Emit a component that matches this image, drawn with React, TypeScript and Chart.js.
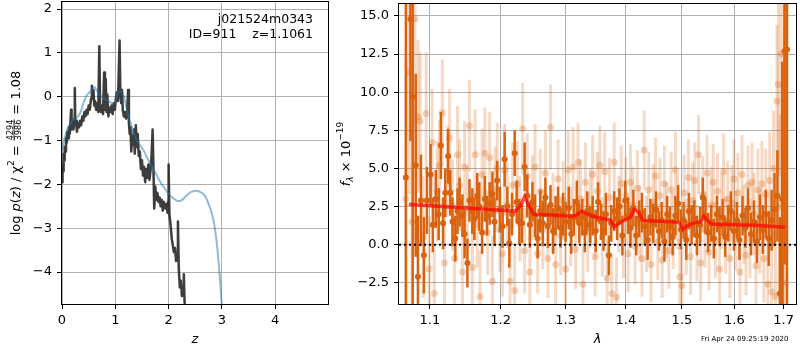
import React, { useEffect, useRef } from 'react';
import { Chart, registerables } from 'chart.js';

Chart.register(...registerables);

const FONT = '"DejaVu Sans", Verdana, sans-serif';

// ---------------- left panel: log p(z) ----------------
const zTicks = [0, 1, 2, 3, 4];
const lpTicks = [-4, -3, -2, -1, 0, 1, 2];

const zBlue = [
  0.0, 0.05, 0.1, 0.15, 0.2, 0.25, 0.3, 0.35, 0.4, 0.45,
  0.5, 0.55, 0.6, 0.65, 0.7, 0.75, 0.8, 0.85, 0.9, 0.95,
  1.0, 1.05, 1.1, 1.15, 1.2, 1.25, 1.3, 1.35, 1.4, 1.45,
  1.5, 1.55, 1.6, 1.65, 1.7, 1.75, 1.8, 1.85, 1.9, 1.95,
  2.0, 2.05, 2.1, 2.15, 2.2, 2.25, 2.3, 2.35, 2.4, 2.45,
  2.5, 2.55, 2.6, 2.65, 2.7, 2.75, 2.8, 2.85, 2.9, 2.95,
  3.0,
];
const lpBlue = [
  -1.2, -0.95, -0.75, -0.62, -0.55, -0.5, -0.45, -0.35, -0.15, 0.0,
  0.08, 0.15, 0.22, 0.15, 0.05, 0.0, -0.05, -0.08, -0.12, -0.16,
  -0.12, 0.1, 0.12, 0.05, -0.2, -0.45, -0.65, -0.83, -0.98, -1.08,
  -1.17, -1.27, -1.4, -1.52, -1.63, -1.73, -1.85, -1.96, -2.05, -2.13,
  -2.21, -2.28, -2.33, -2.37, -2.38, -2.36, -2.3, -2.24, -2.19, -2.16,
  -2.15, -2.15, -2.18, -2.22, -2.3, -2.45, -2.62, -2.87, -3.3, -3.95,
  -4.8,
];

const zBlack = [
  0.0, 0.01, 0.02, 0.03, 0.04, 0.05, 0.06, 0.075, 0.09, 0.1,
  0.115, 0.13, 0.145, 0.16, 0.17, 0.18, 0.2, 0.215, 0.23, 0.24,
  0.25, 0.265, 0.28, 0.3, 0.32, 0.34, 0.36, 0.38, 0.4, 0.42,
  0.44, 0.46, 0.48, 0.5, 0.52, 0.545, 0.56, 0.575, 0.59, 0.605,
  0.62, 0.64, 0.66, 0.68, 0.7, 0.715, 0.73, 0.75, 0.77, 0.79,
  0.805, 0.82, 0.835, 0.85, 0.87, 0.89, 0.91, 0.93, 0.95, 0.97,
  0.99, 1.01, 1.03, 1.05, 1.08, 1.095, 1.11, 1.125, 1.14, 1.16,
  1.18, 1.2, 1.22, 1.24, 1.255, 1.27, 1.285, 1.3, 1.315, 1.33,
  1.35, 1.365, 1.385, 1.4, 1.42, 1.44, 1.46, 1.48, 1.5, 1.52,
  1.54, 1.56, 1.58, 1.6, 1.62, 1.64, 1.66, 1.68, 1.7, 1.715,
  1.73, 1.75, 1.77, 1.79, 1.81, 1.83, 1.85, 1.87, 1.89, 1.91,
  1.94, 1.96, 1.98, 1.99, 2.0, 2.015, 2.035, 2.06, 2.08, 2.1,
  2.12, 2.14, 2.16, 2.175, 2.19, 2.21, 2.23, 2.25, 2.27, 2.285,
  2.3, 2.32,
];
const lpBlack = [
  -1.95, -1.55, -1.7, -1.3, -1.45, -1.15, -1.25, -0.95, -1.05, -0.8,
  -0.95, -0.7, -0.85, -0.55, -0.3, -0.75, -0.6, -0.75, -0.5, 0.2,
  -0.65, -0.55, -0.8, -0.6, -0.7, -0.55, -0.65, -0.45, -0.55, -0.35,
  -0.45, -0.3, -0.4, -0.2, -0.3, -0.05, 0.25, 0.0, 0.15, -0.2,
  -0.1, -0.3, -0.15, -0.35, 1.15, -0.25, -0.35, -0.2, -0.4, 0.55,
  -0.3, 0.4, -0.35, 0.05, -0.45, -0.25, -0.35, -0.2, -0.4, -0.15,
  -0.3, -0.05, 0.1, -0.1, 1.28, 0.05, -0.15, 0.15, -0.3, -0.45,
  -0.35, -0.5, -0.4, 0.15, -0.6, -0.85, -0.7, -1.25, -0.9, -1.1,
  -0.75, -1.3, -0.65, -1.15, -0.85, -1.35, -1.25, -1.65, -1.45, -1.8,
  -1.6, -1.95, -1.65, -1.85, -1.55, -1.9, -1.7, -1.35, -0.75, -1.6,
  -2.55, -2.05, -2.35, -2.2, -2.4, -2.3, -2.5, -2.35, -2.6, -2.4,
  -2.55, -2.45, -2.65, -2.4, -1.55, -2.7, -2.9, -3.25, -3.4, -3.55,
  -3.45, -3.75, -3.6, -2.85, -3.9, -4.35, -4.2, -4.55, -4.45, -4.05,
  -4.7, -4.9,
];

const annotLine1 = 'j021524m0343';
const annotLine2 = 'ID=911    z=1.1061';

// ---------------- right panel: spectrum ----------------
const waveTicks = [1.1, 1.2, 1.3, 1.4, 1.5, 1.6, 1.7];
const fluxTicks = [-2.5, 0, 2.5, 5, 7.5, 10, 12.5, 15];

const modelWave = [
  1.072, 1.1, 1.15, 1.2, 1.222, 1.23, 1.236, 1.242, 1.25, 1.28,
  1.31, 1.318, 1.326, 1.335, 1.35, 1.368, 1.374, 1.38, 1.39, 1.4,
  1.408, 1.414, 1.42, 1.43, 1.45, 1.48, 1.495, 1.502, 1.51, 1.52,
  1.535, 1.541, 1.548, 1.556, 1.6, 1.65, 1.703,
];
const modelFlux = [
  2.65, 2.55, 2.4, 2.25, 2.2, 2.55, 3.15, 2.6, 2.0, 1.95,
  1.85, 1.95, 2.2, 2.0, 1.8, 1.65, 1.6, 1.15, 1.45, 1.65,
  1.8, 2.3, 2.2, 1.6, 1.55, 1.5, 1.45, 1.0, 1.25, 1.4,
  1.5, 1.85, 1.6, 1.35, 1.3, 1.25, 1.15,
];

const darkWave = [
  1.068, 1.074, 1.077, 1.081, 1.084, 1.088, 1.092, 1.096, 1.101, 1.104,
  1.108, 1.112, 1.115, 1.118, 1.121, 1.125, 1.128, 1.131, 1.135, 1.138,
  1.141, 1.145, 1.148, 1.152, 1.155, 1.159, 1.162, 1.166, 1.169, 1.173,
  1.177, 1.18, 1.184, 1.188, 1.191, 1.195, 1.199, 1.203, 1.206, 1.21,
  1.213, 1.217, 1.221, 1.224, 1.228, 1.232, 1.236, 1.24, 1.244, 1.248,
  1.252, 1.256, 1.26, 1.264, 1.268, 1.272, 1.276, 1.28, 1.284, 1.288,
  1.292, 1.296, 1.3, 1.305, 1.309, 1.313, 1.318, 1.322, 1.327, 1.331,
  1.335, 1.34, 1.344, 1.349, 1.353, 1.358, 1.362, 1.366, 1.371, 1.375,
  1.38, 1.385, 1.389, 1.394, 1.399, 1.404, 1.408, 1.413, 1.418, 1.423,
  1.428, 1.433, 1.438, 1.443, 1.448, 1.453, 1.458, 1.463, 1.468, 1.473,
  1.478, 1.483, 1.488, 1.493, 1.498, 1.503, 1.508, 1.513, 1.518, 1.523,
  1.528, 1.534, 1.539, 1.544, 1.549, 1.555, 1.56, 1.566, 1.571, 1.577,
  1.582, 1.588, 1.593, 1.599, 1.605, 1.61, 1.616, 1.622, 1.627, 1.633,
  1.639, 1.645, 1.651, 1.657, 1.663, 1.669, 1.675, 1.681, 1.687, 1.692,
  1.697, 1.702, 1.707,
];
const darkFlux = [
  4.4, 14.8, 9.7, 5.2, -2.1, 2.9, -0.7, 2.9, 4.6, 1.3,
  3.0, 2.0, 6.5, 1.4, 3.4, 5.8, 3.4, 1.5, 0.4, 2.2,
  2.8, 1.9, 0.7, -1.2, 2.9, 2.2, 1.7, 3.2, 2.5, 0.8,
  3.0, 1.9, 2.7, 3.3, 1.5, 4.2, 2.3, 1.2, 5.6, 2.5,
  0.1, 2.0, 6.0, 2.8, 1.5, 1.4, 5.1, 3.2, 1.3, 2.8,
  1.9, 0.4, 2.2, 1.4, 3.1, 1.2, 2.6, 0.9, 1.9, 2.4,
  1.1, 2.0, 1.5, 2.4, 0.7, 1.8, 2.8, 1.4, 1.8, 0.8,
  2.2, 1.3, 1.9, 0.9, 2.8, 1.5, 0.9, 2.0, -0.7, 1.4,
  2.2, 1.7, 2.5, 0.6, 2.9, 1.9, 1.1, 2.4, 0.6, 1.7,
  2.1, 1.2, 0.3, 1.8, 1.4, 2.3, 0.9, 1.6, 0.2, 2.0,
  1.2, 0.5, 1.9, 2.7, 1.0, 1.6, 0.3, 2.2, 1.3, 1.7,
  0.6, 1.3, 3.1, 1.9, 0.8, 1.4, 0.4, 2.0, 1.2, 1.8,
  0.5, 1.4, 2.2, 0.9, 1.6, 0.3, 1.9, 1.1, 2.4, 0.7,
  1.5, 0.2, 1.8, 1.0, 2.0, 0.4, 1.6, 2.3, 3.2, -3.2,
  3.0, 12.7, 12.8,
];
const darkErr = [
  25, 8, 14, 6, 4, 3, 2.5, 2.2, 2.0, 1.8,
  1.9, 1.7, 2.2, 1.7, 1.6, 1.8, 1.5, 1.6, 1.5, 1.5,
  1.6, 1.4, 1.6, 1.6, 1.4, 1.5, 1.4, 1.5, 1.6, 1.4,
  1.5, 1.3, 1.4, 1.5, 1.6, 1.3, 1.5, 1.4, 1.8, 1.3,
  1.6, 1.4, 1.5, 1.4, 1.5, 1.3, 1.6, 1.4, 1.5, 1.3,
  1.4, 1.3, 1.4, 1.5, 1.3, 1.4, 1.3, 1.5, 1.3, 1.4,
  1.3, 1.4, 1.3, 1.4, 1.3, 1.2, 1.4, 1.3, 1.2, 1.3,
  1.3, 1.2, 1.3, 1.4, 1.3, 1.2, 1.3, 1.4, 1.3, 1.2,
  1.3, 1.4, 1.2, 1.3, 1.3, 1.2, 1.3, 1.2, 1.3, 1.2,
  1.3, 1.2, 1.3, 1.2, 1.3, 1.2, 1.3, 1.2, 1.3, 1.2,
  1.3, 1.2, 1.3, 1.2, 1.3, 1.2, 1.3, 1.2, 1.3, 1.2,
  1.3, 1.2, 1.3, 1.2, 1.3, 1.2, 1.3, 1.2, 1.3, 1.2,
  1.3, 1.2, 1.3, 1.3, 1.2, 1.3, 1.3, 1.3, 1.3, 1.4,
  1.4, 1.4, 1.5, 1.6, 1.6, 1.8, 2.0, 2.4, 3.0, 5.0,
  9, 14, 20,
];

const faintWave = [
  1.068, 1.072, 1.076, 1.08, 1.084, 1.087, 1.091, 1.095, 1.099, 1.103,
  1.106, 1.11, 1.113, 1.117, 1.12, 1.124, 1.127, 1.131, 1.134, 1.138,
  1.141, 1.145, 1.148, 1.152, 1.155, 1.159, 1.163, 1.166, 1.17, 1.173,
  1.177, 1.181, 1.184, 1.188, 1.192, 1.195, 1.199, 1.203, 1.206, 1.21,
  1.214, 1.218, 1.221, 1.225, 1.229, 1.233, 1.236, 1.24, 1.244, 1.248,
  1.252, 1.256, 1.26, 1.264, 1.268, 1.272, 1.276, 1.28, 1.284, 1.288,
  1.292, 1.296, 1.3, 1.304, 1.308, 1.312, 1.316, 1.32, 1.324, 1.328,
  1.332, 1.336, 1.34, 1.344, 1.348, 1.352, 1.356, 1.36, 1.364, 1.368,
  1.372, 1.376, 1.38, 1.384, 1.388, 1.392, 1.396, 1.4, 1.404, 1.408,
  1.412, 1.416, 1.42, 1.424, 1.428, 1.432, 1.436, 1.44, 1.444, 1.448,
  1.452, 1.456, 1.46, 1.464, 1.468, 1.472, 1.476, 1.48, 1.484, 1.488,
  1.492, 1.496, 1.5, 1.504, 1.508, 1.512, 1.516, 1.52, 1.524, 1.528,
  1.531, 1.535, 1.539, 1.543, 1.547, 1.551, 1.555, 1.559, 1.563, 1.567,
  1.571, 1.575, 1.579, 1.583, 1.587, 1.591, 1.595, 1.599, 1.603, 1.607,
  1.611, 1.615, 1.619, 1.623, 1.627, 1.631, 1.635, 1.639, 1.643, 1.647,
  1.651, 1.655, 1.659, 1.663, 1.667, 1.671, 1.675, 1.679, 1.683, 1.686,
  1.689, 1.692, 1.695, 1.699, 1.703,
];
const faintFlux = [
  3.0, 11.3, 1.5, 14.8, 8.4, 8.1, 0.5, 8.6, -1.6, 6.7,
  -3.2, 3.5, 5.2, 8.65, -1.2, 4.8, 7.0, 2.6, -0.9, 5.9,
  3.9, -1.8, 5.1, 2.4, 7.8, -1.5, 5.9, 1.3, -3.4, 4.6,
  6.0, 0.8, 5.7, -2.4, 3.6, 5.0, 1.0, -0.6, 4.9, 2.6,
  -2.4, 3.9, -3.0, 4.0, 1.7, 7.6, -0.4, 4.5, -1.8, 3.1,
  5.1, -0.6, 3.5, 1.0, 4.7, -0.9, 7.7, 2.1, -1.3, 4.3,
  0.6, 2.9, -1.6, 4.9, 1.2, 5.1, -0.3, 5.4, 3.0, -2.6,
  4.1, 0.8, 2.4, 4.6, -0.8, 3.5, 5.2, 0.5, 4.8, -2.2,
  3.1, -3.2, 5.4, -3.45, 2.0, 4.0, 0.3, 3.2, -0.6, 4.1,
  2.6, -0.1, 3.7, 1.4, -0.9, 6.2, 0.7, 3.6, -1.3, 2.8,
  4.5, 0.2, 3.2, -1.0, 4.0, 1.6, -0.4, 3.6, 0.9, 4.9,
  2.2, -2.1, -2.7, 3.4, 0.5, 4.4, -0.8, 2.9, 4.2, 0.1,
  5.9, -1.2, 3.3, 1.0, 4.7, -0.5, 2.6, 4.1, 0.3, 3.5,
  -1.6, 2.2, 4.8, 0.6, 3.0, -0.9, 2.7, 4.3, 0.9, 3.4,
  -1.8, 4.6, 1.3, -0.7, 3.9, 0.4, 4.1, 2.0, -1.4, 3.6,
  0.9, 4.0, -0.9, 3.3, -2.6, 4.2, -3.1, 5.0, -3.4, 9.4,
  10.5, 2.5, 12.5, -2.5, 4.0,
];
const faintErr = [
  9, 8, 6, 7, 5, 4.5, 4, 4, 3.5, 3.5,
  3.2, 3.3, 3, 3.5, 3, 3, 3.2, 3, 3, 3.2,
  3, 3, 3, 2.8, 3, 3, 3, 2.8, 3, 3,
  3, 2.8, 3, 3, 2.8, 3, 2.8, 2.8, 3, 2.8,
  3, 2.8, 3, 2.8, 2.8, 3, 2.8, 2.8, 2.8, 2.8,
  2.8, 2.6, 2.8, 2.6, 2.8, 2.6, 2.8, 2.6, 2.6, 2.6,
  2.6, 2.6, 2.6, 2.6, 2.6, 2.6, 2.6, 2.6, 2.6, 2.6,
  2.6, 2.6, 2.6, 2.6, 2.6, 2.6, 2.6, 2.6, 2.6, 2.6,
  2.6, 2.6, 2.6, 2.6, 2.5, 2.5, 2.5, 2.5, 2.5, 2.5,
  2.5, 2.5, 2.5, 2.5, 2.5, 2.6, 2.5, 2.5, 2.5, 2.5,
  2.5, 2.5, 2.5, 2.5, 2.5, 2.5, 2.5, 2.5, 2.5, 2.5,
  2.5, 2.5, 2.6, 2.5, 2.5, 2.5, 2.5, 2.5, 2.5, 2.5,
  2.6, 2.5, 2.5, 2.5, 2.5, 2.5, 2.5, 2.5, 2.5, 2.5,
  2.5, 2.5, 2.5, 2.5, 2.5, 2.6, 2.5, 2.6, 2.6, 2.6,
  2.6, 2.6, 2.6, 2.6, 2.6, 2.6, 2.6, 2.7, 2.7, 2.7,
  2.8, 2.8, 2.9, 3, 3, 3.2, 3.5, 3.8, 4.2, 5,
  6, 6, 8, 9, 12,
];

const timestamp = 'Fri Apr 24 09:25:19 2020';

// ---------------- helpers ----------------
const minus = (s: string) => s.replace('-', '\u2212');

const DARK = 'rgb(217,98,14)';
const FAINT_BAR = 'rgba(217,98,14,0.24)';
const FAINT_PT = 'rgba(217,98,14,0.28)';

const gridOpts = {
  color: '#b0b0b0',
  lineWidth: 1,
  tickColor: '#000',
  tickLength: 5,
  tickWidth: 1,
  drawTicks: true,
};

const framePlugin = {
  id: 'frame',
  afterDatasetsDraw(chart: any) {
    const { ctx, chartArea: a } = chart;
    ctx.save();
    ctx.strokeStyle = '#000';
    ctx.lineWidth = 1;
    ctx.strokeRect(a.left - 0.5, a.top - 0.5, a.right - a.left + 1, a.bottom - a.top + 1);
    ctx.restore();
  },
};

const zeroLinePlugin = {
  id: 'zeroLine',
  afterDatasetsDraw(chart: any) {
    const { ctx, chartArea: a, scales } = chart;
    const y = scales.y.getPixelForValue(0);
    ctx.save();
    ctx.strokeStyle = '#000';
    ctx.lineWidth = 2;
    ctx.setLineDash([2, 3]);
    ctx.beginPath();
    ctx.moveTo(a.left, y);
    ctx.lineTo(a.right, y);
    ctx.stroke();
    ctx.restore();
  },
};

const errorBarPlugin = {
  id: 'errbars',
  beforeDatasetDraw(chart: any, args: any) {
    const ds: any = chart.data.datasets[args.index];
    if (!ds.errs) return;
    const { ctx, chartArea: a, scales } = chart;
    const xs = scales.x;
    const ys = scales.y;
    ctx.save();
    ctx.beginPath();
    ctx.rect(a.left, a.top, a.right - a.left, a.bottom - a.top);
    ctx.clip();
    ctx.strokeStyle = ds.errColor;
    ctx.lineWidth = ds.errWidth;
    ds.data.forEach((p: any, i: number) => {
      const e = ds.errs[i];
      const px = xs.getPixelForValue(p.x);
      ctx.beginPath();
      ctx.moveTo(px, ys.getPixelForValue(p.y - e));
      ctx.lineTo(px, ys.getPixelForValue(p.y + e));
      ctx.stroke();
    });
    ctx.restore();
  },
};

type Run = { t?: string; font: string; dy?: number; frac?: [string, string] };

function drawRotatedRuns(ctx: CanvasRenderingContext2D, cx: number, cy: number, baseline: number, runs: Run[]) {
  ctx.save();
  ctx.translate(cx, cy);
  ctx.rotate(-Math.PI / 2);
  ctx.fillStyle = '#000';
  ctx.textBaseline = 'alphabetic';
  ctx.textAlign = 'left';
  const widths = runs.map((r) => {
    ctx.font = r.font;
    if (r.frac) return Math.max(ctx.measureText(r.frac[0]).width, ctx.measureText(r.frac[1]).width) + 2;
    return ctx.measureText(r.t || '').width;
  });
  const total = widths.reduce((s, w) => s + w, 0);
  let x = -total / 2;
  runs.forEach((r, i) => {
    ctx.font = r.font;
    const w = widths[i];
    if (r.frac) {
      const barY = baseline - 6;
      ctx.textAlign = 'center';
      ctx.textBaseline = 'alphabetic';
      ctx.fillText(r.frac[0], x + w / 2, barY - 1.2);
      ctx.textBaseline = 'top';
      ctx.fillText(r.frac[1], x + w / 2, barY + 0.8);
      ctx.textBaseline = 'alphabetic';
      ctx.textAlign = 'left';
      ctx.fillRect(x + 0.5, barY - 0.4, w - 1, 0.8);
    } else {
      ctx.fillText(r.t || '', x, baseline + (r.dy || 0));
    }
    x += w;
  });
  ctx.restore();
}

const leftTextPlugin = {
  id: 'leftText',
  afterDraw(chart: any) {
    const { ctx, chartArea: a } = chart;
    ctx.save();
    ctx.fillStyle = '#000';
    ctx.font = `12.5px ${FONT}`;
    ctx.textAlign = 'right';
    ctx.textBaseline = 'middle';
    ctx.fillText(annotLine1, a.right - 15, a.top + 18);
    ctx.fillText(annotLine2, a.right - 15, a.top + 32.5);
    ctx.font = `italic 13px ${FONT}`;
    ctx.textAlign = 'center';
    ctx.fillText('z', (a.left + a.right) / 2, 340);
    ctx.restore();
    const reg = `13px ${FONT}`;
    const ital = `italic 13px ${FONT}`;
    const sup = `9px ${FONT}`;
    const frac = `8px ${FONT}`;
    drawRotatedRuns(ctx, 0, (a.top + a.bottom) / 2, 20, [
      { t: 'log ', font: reg },
      { t: 'p', font: ital },
      { t: '(', font: reg },
      { t: 'z', font: ital },
      { t: ') / \u03c7', font: reg },
      { t: '2', font: sup, dy: -6 },
      { t: ' = ', font: reg },
      { frac: ['4294', '3986'], font: frac },
      { t: ' = 1.08', font: reg },
    ]);
  },
};

const rightTextPlugin = {
  id: 'rightText',
  afterDraw(chart: any) {
    const { ctx, chartArea: a } = chart;
    ctx.save();
    ctx.fillStyle = '#000';
    ctx.font = `italic 13px ${FONT}`;
    ctx.textAlign = 'center';
    ctx.textBaseline = 'middle';
    ctx.fillText('\u03bb', (a.left + a.right) / 2, 340);
    ctx.font = `7px ${FONT}`;
    ctx.textAlign = 'left';
    ctx.fillText(timestamp, 371, 339);
    ctx.restore();
    const reg = `13px ${FONT}`;
    const ital = `italic 13px ${FONT}`;
    const small = `9px ${FONT}`;
    drawRotatedRuns(ctx, 0, (a.top + a.bottom) / 2, 20, [
      { t: 'f', font: ital },
      { t: '\u03bb', font: `italic 9px ${FONT}`, dy: 3 },
      { t: ' \u00d7 10', font: reg },
      { t: '\u221219', font: small, dy: -7 },
    ]);
  },
};

const fitX = (s: any) => {
  s.height = 46;
  s.paddingLeft = 0;
  s.paddingRight = 0;
};
const fitYLeft = (s: any) => {
  s.width = 62;
  s.paddingTop = 0;
  s.paddingBottom = 0;
};
const fitYRight = (s: any) => {
  s.width = 69;
  s.paddingTop = 0;
  s.paddingBottom = 0;
};

function leftConfig(): any {
  return {
    type: 'line',
    data: {
      datasets: [
        {
          data: zBlue.map((z, i) => ({ x: z, y: lpBlue[i] })),
          borderColor: 'rgba(31,119,180,0.5)',
          borderWidth: 2,
          pointRadius: 0,
          tension: 0.4,
          fill: false,
          order: 1,
        },
        {
          data: zBlack.map((z, i) => ({ x: z, y: lpBlack[i] })),
          borderColor: 'rgba(40,40,40,0.9)',
          borderWidth: 2.5,
          pointRadius: 0,
          tension: 0,
          fill: false,
          borderJoinStyle: 'round',
          order: 2,
        },
      ],
    },
    options: {
      animation: false,
      responsive: false,
      maintainAspectRatio: false,
      devicePixelRatio: 1,
      layout: { padding: { top: 2, right: 2, left: 0, bottom: 0 } },
      plugins: { legend: { display: false }, tooltip: { enabled: false } },
      scales: {
        x: {
          type: 'linear',
          min: 0,
          max: 4.99,
          afterBuildTicks: (s: any) => {
            s.ticks = zTicks.map((v) => ({ value: v }));
          },
          afterFit: fitX,
          grid: gridOpts,
          border: { display: false },
          ticks: {
            color: '#000',
            font: { family: FONT, size: 13 },
            padding: 4,
            maxRotation: 0,
            autoSkip: false,
            callback: (v: any) => minus(String(v)),
          },
        },
        y: {
          type: 'linear',
          min: -4.73,
          max: 2.16,
          afterBuildTicks: (s: any) => {
            s.ticks = lpTicks.map((v) => ({ value: v }));
          },
          afterFit: fitYLeft,
          grid: gridOpts,
          border: { display: false },
          ticks: {
            color: '#000',
            font: { family: FONT, size: 13 },
            padding: 5,
            autoSkip: false,
            callback: (v: any) => minus(String(v)),
          },
        },
      },
    },
    plugins: [framePlugin, leftTextPlugin],
  };
}

function rightConfig(): any {
  return {
    type: 'scatter',
    data: {
      datasets: [
        {
          data: faintWave.map((w, i) => ({ x: w, y: faintFlux[i] })),
          errs: faintErr,
          errColor: FAINT_BAR,
          errWidth: 3,
          backgroundColor: FAINT_PT,
          borderWidth: 0,
          pointRadius: 3.5,
          order: 3,
        },
        {
          data: darkWave.map((w, i) => ({ x: w, y: darkFlux[i] })),
          errs: darkErr,
          errColor: DARK,
          errWidth: 2.5,
          backgroundColor: DARK,
          borderWidth: 0,
          pointRadius: 3,
          order: 2,
        },
        {
          data: modelWave.map((w, i) => ({ x: w, y: modelFlux[i] })),
          showLine: true,
          borderColor: 'rgba(255,0,0,0.7)',
          borderWidth: 3.5,
          pointRadius: 0,
          tension: 0,
          fill: false,
          order: 1,
        },
      ],
    },
    options: {
      animation: false,
      responsive: false,
      maintainAspectRatio: false,
      devicePixelRatio: 1,
      layout: { padding: { top: 2, right: 1, left: 0, bottom: 0 } },
      plugins: { legend: { display: false }, tooltip: { enabled: false } },
      scales: {
        x: {
          type: 'logarithmic',
          min: 1.059,
          max: 1.726,
          afterBuildTicks: (s: any) => {
            s.ticks = waveTicks.map((v) => ({ value: v }));
          },
          afterFit: fitX,
          grid: gridOpts,
          border: { display: false },
          ticks: {
            color: '#000',
            font: { family: FONT, size: 13 },
            padding: 4,
            maxRotation: 0,
            autoSkip: false,
            callback: (v: any) => Number(v).toFixed(1),
          },
        },
        y: {
          type: 'linear',
          min: -3.89,
          max: 15.78,
          afterBuildTicks: (s: any) => {
            s.ticks = fluxTicks.map((v) => ({ value: v }));
          },
          afterFit: fitYRight,
          grid: gridOpts,
          border: { display: false },
          ticks: {
            color: '#000',
            font: { family: FONT, size: 13 },
            padding: 5,
            autoSkip: false,
            callback: (v: any) => minus(Number(v).toFixed(1)),
          },
        },
      },
    },
    plugins: [errorBarPlugin, zeroLinePlugin, framePlugin, rightTextPlugin],
  };
}

export default function App() {
  const leftRef = useRef<HTMLCanvasElement>(null);
  const rightRef = useRef<HTMLCanvasElement>(null);

  useEffect(() => {
    const l = new Chart(leftRef.current as HTMLCanvasElement, leftConfig());
    const r = new Chart(rightRef.current as HTMLCanvasElement, rightConfig());
    return () => {
      l.destroy();
      r.destroy();
    };
  }, []);

  return (
    <div style={{ position: 'fixed', left: 0, top: 0, width: 800, height: 350, background: '#fff' }}>
      <canvas
        ref={leftRef}
        width={330}
        height={350}
        style={{ position: 'absolute', left: 0, top: 0, width: 330, height: 350 }}
      />
      <canvas
        ref={rightRef}
        width={470}
        height={350}
        style={{ position: 'absolute', left: 330, top: 0, width: 470, height: 350 }}
      />
    </div>
  );
}
